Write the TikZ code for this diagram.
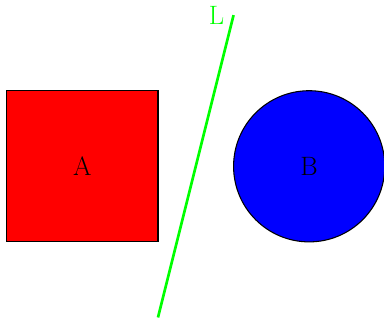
\documentclass[tikz,border=0pt]{standalone}
\usepackage{tikz}
\usetikzlibrary{positioning}

\begin{document}
\begin{tikzpicture}[every node/.style={font=\fontsize{20}{24}\selectfont},
    line width=0.8pt]
    \useasboundingbox (-0.18,-2.2) rectangle (9.98,6.4);
    % Square A (red)
    \node[draw,fill=red,minimum size=4cm,inner sep=0pt] (sqA) at (2,2) {A};
    % Circle B (blue)
    \node[draw,fill=blue,circle,minimum size=4cm,inner sep=0pt] (circB) at (8,2) {B};
    % Separating line L
    \coordinate (lineLow) at (4,-2);
    \coordinate (lineHigh) at (6,6);
    \draw[green,line width=2pt] (lineLow) -- (lineHigh)
      node[left,green,inner sep=6pt] (labL) {L};
  \end{tikzpicture}
\end{document}
